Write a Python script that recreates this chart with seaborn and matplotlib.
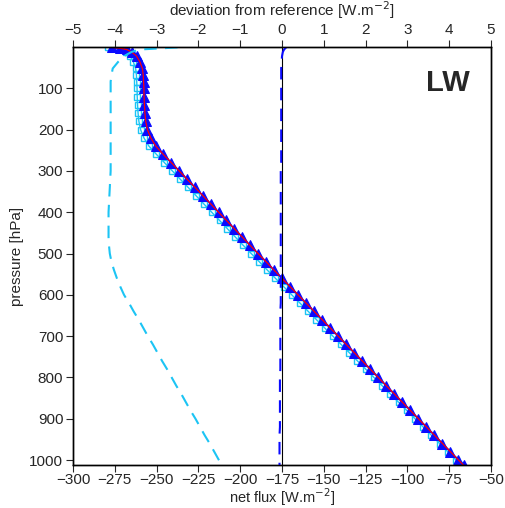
import numpy as np
import pandas as pd
import matplotlib
matplotlib.use("Agg")
import matplotlib.pyplot as plt
import seaborn as sns

# ==============================
# DATA
# ==============================
pressure = [1, 3, 6, 12, 22, 36, 52, 68, 84,
            100, 120, 140, 160, 180, 200, 220, 240, 260, 280,
            300, 320, 340, 360, 380, 400, 420, 440, 460, 480,
            500, 520, 540, 560, 580, 600, 620, 640, 660, 680,
            700, 720, 740, 760, 780, 800, 820, 840, 860, 880,
            900, 920, 940, 960, 980, 1000, 1013]

# reference net flux [W m-2]
ref_flux = [-276.5, -272.0, -268.0, -265.0, -262.0, -260.0, -258.5, -258.0, -257.8,
            -257.6, -257.5, -257.3, -257.0, -256.5, -255.5, -253.5, -250.5, -246.0, -241.2,
            -236.5, -231.8, -227.0, -222.3, -217.6, -212.9, -208.2, -203.5, -198.8, -194.1,
            -189.3, -184.5, -179.8, -175.0, -170.2, -165.4, -160.6, -155.8, -151.0, -146.2,
            -141.4, -136.6, -131.8, -127.0, -122.2, -117.4, -112.6, -107.8, -103.0, -98.2,
            -93.4, -88.6, -83.8, -79.0, -74.2, -69.4, -66.3]

# deviation from reference, scheme A (blue triangles)
dev_blue = [0.10, 0.08, 0.05, 0.02, 0.00, -0.01, -0.02, -0.02, -0.02,
            -0.02, -0.02, -0.02, -0.02, -0.02, -0.02, -0.02, -0.02, -0.02, -0.02,
            -0.03, -0.03, -0.03, -0.03, -0.03, -0.03, -0.03, -0.03, -0.03, -0.03,
            -0.03, -0.03, -0.03, -0.03, -0.03, -0.03, -0.03, -0.04, -0.04, -0.04,
            -0.04, -0.04, -0.04, -0.04, -0.04, -0.05, -0.05, -0.05, -0.05, -0.05,
            -0.05, -0.05, -0.06, -0.06, -0.06, -0.06, -0.06]

# deviation from reference, scheme B (cyan squares)
dev_cyan = [-2.50, -2.85, -3.40, -3.60, -3.78, -3.92, -4.05, -4.08, -4.10,
            -4.10, -4.10, -4.10, -4.10, -4.10, -4.10, -4.10, -4.10, -4.10, -4.10,
            -4.10, -4.11, -4.12, -4.13, -4.14, -4.15, -4.15, -4.15, -4.15, -4.14,
            -4.12, -4.08, -4.02, -3.95, -3.87, -3.78, -3.66, -3.55, -3.43, -3.32,
            -3.21, -3.09, -2.98, -2.87, -2.75, -2.64, -2.53, -2.41, -2.30, -2.19,
            -2.07, -1.96, -1.85, -1.73, -1.62, -1.51, -1.44]

flux_ticks = [-300, -275, -250, -225, -200, -175, -150, -125, -100, -75, -50]
dev_ticks = [-5, -4, -3, -2, -1, 0, 1, 2, 3, 4, 5]
p_ticks = [100, 200, 300, 400, 500, 600, 700, 800, 900, 1000]

CYAN = "#1cc4f4"
BLUE = "#0a0aff"

df = pd.DataFrame({
    "p": pressure,
    "ref": ref_flux,
    "blue": np.array(ref_flux) + np.array(dev_blue),
    "cyan": np.array(ref_flux) + np.array(dev_cyan),
    "dev_blue": dev_blue,
    "dev_cyan": dev_cyan,
})

sns.set_style("ticks")
plt.rcParams["font.family"] = ["Liberation Sans", "DejaVu Sans"]
plt.rcParams["font.size"] = 11

fig = plt.figure(figsize=(5.06, 5.08), dpi=100)
ax = fig.add_axes([0.1443, 0.0846, 0.8261, 0.8229])

# net flux curves (bottom axis)
sns.lineplot(data=df, x="cyan", y="p", sort=False, estimator=None, ax=ax,
             color=CYAN, lw=1.0, marker="s", markersize=5,
             markerfacecolor="none", markeredgecolor=CYAN, markeredgewidth=1.0)
sns.lineplot(data=df, x="blue", y="p", sort=False, estimator=None, ax=ax,
             color=BLUE, lw=1.2, marker="^", markersize=6.5,
             markerfacecolor=BLUE, markeredgecolor=BLUE)
sns.lineplot(data=df, x="ref", y="p", sort=False, estimator=None, ax=ax,
             color="red", lw=0.9)

ax.set_xlim(-300, -50)
ax.set_ylim(1012, 0)
ax.set_xticks(flux_ticks)
ax.set_yticks(p_ticks)
ax.tick_params(direction="out", length=5, width=0.8, right=False, pad=2)
ax.tick_params(axis="x", pad=1)
ax.set_xlabel("net flux [W.m$^{-2}$]", labelpad=-0.5, fontsize=10.5)
ax.set_ylabel("pressure [hPa]", labelpad=4)

# deviation curves (top axis)
ax2 = ax.twiny()
ax2.axvline(0, color="black", lw=0.8)
sns.lineplot(data=df, x="dev_cyan", y="p", sort=False, estimator=None, ax=ax2,
             color=CYAN, lw=1.5, dashes=False)
sns.lineplot(data=df, x="dev_blue", y="p", sort=False, estimator=None, ax=ax2,
             color=BLUE, lw=1.5, dashes=False)
for ln in ax2.lines[1:]:
    ln.set_dashes((6, 4))
ax2.set_xlim(-5, 5)
ax2.set_ylim(1012, 0)
ax2.set_xticks(dev_ticks)
ax2.set_xlabel("deviation from reference [W.m$^{-2}$]", labelpad=5)
ax2.tick_params(direction="out", length=5, width=0.8, pad=2)
ax2.set_ylabel("")

for a in (ax, ax2):
    for s in a.spines.values():
        s.set_linewidth(1.0)
        s.set_color("black")

ax2.text(0.95, 0.913, "LW", transform=ax2.transAxes, ha="right", va="center",
         fontsize=21, fontweight="bold")

fig.savefig("out.png", dpi=100)
